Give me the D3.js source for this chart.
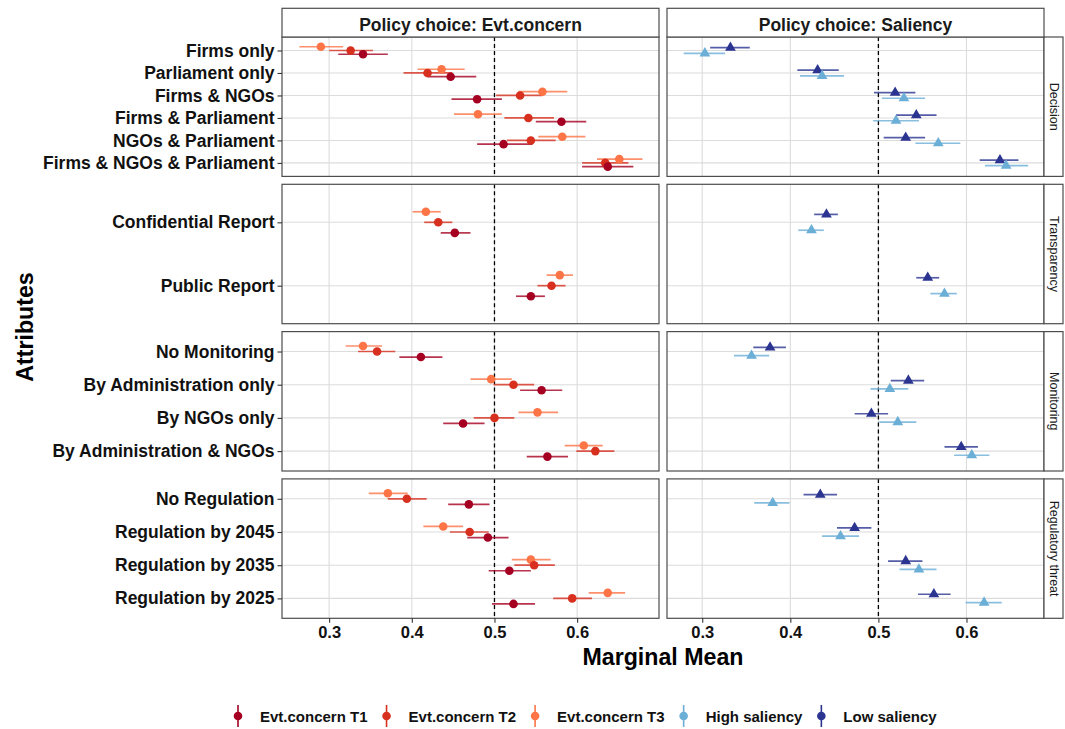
<!DOCTYPE html>
<html>
<head>
<meta charset="utf-8">
<script src="https://cdn.jsdelivr.net/npm/d3@7"></script>
<style>
  html, body { margin: 0; padding: 0; background: #ffffff; }
  svg { display: block; }
</style>
</head>
<body>
<script>
// ---------------- DATA ----------------
const decisionLevels = ["Firms only", "Parliament only", "Firms & NGOs", "Firms & Parliament", "NGOs & Parliament", "Firms & NGOs & Parliament"];
const transparencyLevels = ["Confidential Report", "Public Report"];
const monitoringLevels = ["No Monitoring", "By Administration only", "By NGOs only", "By Administration & NGOs"];
const regulatoryLevels = ["No Regulation", "Regulation by 2045", "Regulation by 2035", "Regulation by 2025"];
const groupNames = ["Decision", "Transparency", "Monitoring", "Regulatory threat"];
const facetNames = ["Policy choice: Evt.concern", "Policy choice: Saliency"];
const xTicks = [0.3, 0.4, 0.5, 0.6];
const seriesNames = ["Evt.concern T1", "Evt.concern T2", "Evt.concern T3", "High saliency", "Low saliency"];

// values in level order: decision(6), transparency(2), monitoring(4), regulatory(4)
const t1Est = [0.341, 0.447, 0.479, 0.581, 0.511, 0.637, 0.452, 0.544, 0.411, 0.557, 0.462, 0.564, 0.469, 0.492, 0.518, 0.523];
const t1Lo  = [0.311, 0.419, 0.448, 0.550, 0.479, 0.606, 0.435, 0.526, 0.385, 0.531, 0.438, 0.539, 0.444, 0.467, 0.493, 0.497];
const t1Hi  = [0.371, 0.478, 0.509, 0.611, 0.546, 0.668, 0.471, 0.561, 0.437, 0.582, 0.488, 0.589, 0.494, 0.517, 0.544, 0.549];

const t2Est = [0.326, 0.419, 0.531, 0.541, 0.544, 0.634, 0.432, 0.569, 0.358, 0.523, 0.500, 0.622, 0.394, 0.470, 0.548, 0.594];
const t2Lo  = [0.300, 0.390, 0.502, 0.512, 0.515, 0.606, 0.415, 0.552, 0.335, 0.499, 0.475, 0.599, 0.371, 0.446, 0.524, 0.571];
const t2Hi  = [0.353, 0.449, 0.558, 0.572, 0.574, 0.662, 0.449, 0.586, 0.380, 0.548, 0.524, 0.645, 0.418, 0.493, 0.573, 0.618];

const t3Est = [0.290, 0.436, 0.558, 0.480, 0.582, 0.651, 0.417, 0.579, 0.341, 0.496, 0.552, 0.608, 0.371, 0.438, 0.544, 0.637];
const t3Lo  = [0.264, 0.407, 0.529, 0.451, 0.553, 0.624, 0.401, 0.563, 0.320, 0.471, 0.529, 0.585, 0.348, 0.414, 0.521, 0.614];
const t3Hi  = [0.317, 0.464, 0.588, 0.509, 0.610, 0.679, 0.435, 0.595, 0.364, 0.521, 0.577, 0.631, 0.395, 0.462, 0.568, 0.658];

const highEst = [0.303, 0.436, 0.529, 0.520, 0.568, 0.645, 0.424, 0.575, 0.356, 0.513, 0.522, 0.606, 0.380, 0.457, 0.546, 0.620];
const highLo  = [0.279, 0.411, 0.504, 0.494, 0.542, 0.621, 0.409, 0.559, 0.336, 0.491, 0.501, 0.586, 0.359, 0.436, 0.524, 0.599];
const highHi  = [0.326, 0.461, 0.553, 0.546, 0.593, 0.670, 0.438, 0.589, 0.376, 0.534, 0.543, 0.626, 0.399, 0.478, 0.566, 0.640];

const lowEst = [0.332, 0.431, 0.519, 0.543, 0.531, 0.638, 0.441, 0.556, 0.377, 0.534, 0.492, 0.594, 0.434, 0.473, 0.531, 0.563];
const lowLo  = [0.309, 0.408, 0.495, 0.520, 0.506, 0.615, 0.427, 0.543, 0.358, 0.514, 0.473, 0.575, 0.415, 0.453, 0.511, 0.545];
const lowHi  = [0.354, 0.455, 0.542, 0.566, 0.553, 0.659, 0.454, 0.569, 0.395, 0.552, 0.511, 0.613, 0.453, 0.492, 0.550, 0.582];

// ---------------- LAYOUT / STYLE ----------------
const W = 1065, H = 729;
const colors = {"Evt.concern T1": "#A50021", "Evt.concern T2": "#D7301F", "Evt.concern T3": "#FD7446", "High saliency": "#6BAED6", "Low saliency": "#2B3591"};
const cols = [
  {x0: 282, x1: 659, domain: [0.243, 0.699]},
  {x0: 667, x1: 1044, domain: [0.260, 0.688]}
];
const rowTop0 = 37, rowH = 139.4, rowGap = 7.9;
const stripTop = 8.3;
const rightStripW = 19;
const levelGroups = [decisionLevels, transparencyLevels, monitoringLevels, regulatoryLevels];
const allLevels = [].concat(...levelGroups);
const FONT = "'Liberation Sans', Arial, Helvetica, sans-serif";

const svg = d3.select("body").append("svg").attr("width", W).attr("height", H)
  .style("font-family", FONT);
svg.append("rect").attr("width", W).attr("height", H).attr("fill", "#ffffff");

// Build rows
const mk = (name, est, lo, hi) => allLevels.map((lv, i) => ({series: name, level: lv, est: est[i], lo: lo[i], hi: hi[i]}));
const leftSeries = [
  {name: "Evt.concern T3", off: -1/6, data: mk("Evt.concern T3", t3Est, t3Lo, t3Hi)},
  {name: "Evt.concern T2", off: 0, data: mk("Evt.concern T2", t2Est, t2Lo, t2Hi)},
  {name: "Evt.concern T1", off: 1/6, data: mk("Evt.concern T1", t1Est, t1Lo, t1Hi)}
];
const rightSeries = [
  {name: "Low saliency", off: -0.125, data: mk("Low saliency", lowEst, lowLo, lowHi)},
  {name: "High saliency", off: 0.125, data: mk("High saliency", highEst, highLo, highHi)}
];

const xScales = cols.map(c => d3.scaleLinear().domain(c.domain).range([c.x0, c.x1]));

levelGroups.forEach((levels, r) => {
  const top = rowTop0 + r * (rowH + rowGap);
  const bottom = top + rowH;
  const y = d3.scalePoint().domain(levels).range([top, bottom]).padding(0.6);
  const step = y.step();

  cols.forEach((c, ci) => {
    const x = xScales[ci];
    const g = svg.append("g");
    g.append("rect").attr("x", c.x0).attr("y", top).attr("width", c.x1 - c.x0).attr("height", rowH)
      .attr("fill", "#ffffff");
    // grid
    g.selectAll("line.hg").data(levels).enter().append("line")
      .attr("x1", c.x0).attr("x2", c.x1).attr("y1", d => y(d)).attr("y2", d => y(d))
      .attr("stroke", "#dcdcdc").attr("stroke-width", 1.1);
    g.selectAll("line.vg").data(xTicks).enter().append("line")
      .attr("x1", d => x(d)).attr("x2", d => x(d)).attr("y1", top).attr("y2", bottom)
      .attr("stroke", "#dcdcdc").attr("stroke-width", 1.1);
    // dashed reference
    g.append("line").attr("x1", x(0.5)).attr("x2", x(0.5)).attr("y1", top).attr("y2", bottom)
      .attr("stroke", "#000").attr("stroke-width", 1.3).attr("stroke-dasharray", "4,3");

    const series = ci === 0 ? leftSeries : rightSeries;
    // error bars
    series.forEach(s => {
      const d = s.data.filter(p => levels.includes(p.level));
      g.selectAll(null).data(d).enter().append("line")
        .attr("x1", p => x(p.lo)).attr("x2", p => x(p.hi))
        .attr("y1", p => y(p.level) + s.off * step).attr("y2", p => y(p.level) + s.off * step)
        .attr("stroke", colors[s.name]).attr("stroke-width", 1.7).attr("stroke-opacity", 0.8);
    });
    // points
    series.forEach(s => {
      const d = s.data.filter(p => levels.includes(p.level));
      if (ci === 0) {
        g.selectAll(null).data(d).enter().append("circle")
          .attr("cx", p => x(p.est)).attr("cy", p => y(p.level) + s.off * step)
          .attr("r", 4.3).attr("fill", colors[s.name]);
      } else {
        g.selectAll(null).data(d).enter().append("path")
          .attr("d", d3.symbol().type(d3.symbolTriangle).size(50))
          .attr("transform", p => `translate(${x(p.est)},${y(p.level) + s.off * step})`)
          .attr("fill", colors[s.name]);
      }
    });
    // border
    g.append("rect").attr("x", c.x0).attr("y", top).attr("width", c.x1 - c.x0).attr("height", rowH)
      .attr("fill", "none").attr("stroke", "#4d4d4d").attr("stroke-width", 1.2);

    // y axis on left column
    if (ci === 0) {
      const ya = svg.append("g").attr("transform", `translate(${c.x0},0)`)
        .call(d3.axisLeft(y).tickSize(4.5).tickPadding(3));
      ya.select(".domain").remove();
      ya.selectAll(".tick line").attr("stroke", "#333").attr("stroke-width", 1.1);
      ya.selectAll(".tick text").attr("font-size", "17.5px").attr("font-weight", "bold")
        .attr("fill", "#111").attr("font-family", FONT);
    }
    // x axis at bottom row
    if (r === levelGroups.length - 1) {
      const xa = svg.append("g").attr("transform", `translate(0,${bottom})`)
        .call(d3.axisBottom(x).tickValues(xTicks).tickFormat(d3.format(".1f")).tickSize(4.5).tickPadding(3));
      xa.select(".domain").remove();
      xa.selectAll(".tick line").attr("stroke", "#333").attr("stroke-width", 1.1);
      xa.selectAll(".tick text").attr("font-size", "16.5px").attr("font-weight", "bold")
        .attr("fill", "#111").attr("font-family", FONT);
    }
  });

  // right strip
  const sx = cols[1].x1;
  svg.append("rect").attr("x", sx).attr("y", top).attr("width", rightStripW).attr("height", rowH)
    .attr("fill", "#ffffff").attr("stroke", "#4d4d4d").attr("stroke-width", 1.2);
  svg.append("text")
    .attr("transform", `translate(${sx + rightStripW / 2},${(top + bottom) / 2}) rotate(90)`)
    .attr("text-anchor", "middle").attr("dominant-baseline", "central")
    .attr("font-size", "12.5px").attr("fill", "#1a1a1a").text(groupNames[r]);
});

// top strips
cols.forEach((c, ci) => {
  svg.append("rect").attr("x", c.x0).attr("y", stripTop).attr("width", c.x1 - c.x0).attr("height", rowTop0 - stripTop)
    .attr("fill", "#ffffff").attr("stroke", "#4d4d4d").attr("stroke-width", 1.2);
  svg.append("text").attr("x", (c.x0 + c.x1) / 2).attr("y", 30.5)
    .attr("text-anchor", "middle").attr("font-size", "17.5px").attr("font-weight", "bold")
    .attr("fill", "#1a1a1a").text(facetNames[ci]);
});

// axis titles
svg.append("text").attr("x", (cols[0].x0 + cols[1].x1) / 2).attr("y", 665)
  .attr("text-anchor", "middle").attr("font-size", "23.2px").attr("font-weight", "bold")
  .attr("fill", "#000").text("Marginal Mean");
svg.append("text").attr("transform", `translate(33,327) rotate(-90)`)
  .attr("text-anchor", "middle").attr("font-size", "23.2px").attr("font-weight", "bold")
  .attr("fill", "#000").text("Attributes");

// legend
const leg = svg.append("g");
let lx = 238;
const ly = 716;
seriesNames.forEach(name => {
  leg.append("line").attr("x1", lx).attr("x2", lx).attr("y1", ly - 11).attr("y2", ly + 11)
    .attr("stroke", colors[name]).attr("stroke-width", 1.6);
  leg.append("circle").attr("cx", lx).attr("cy", ly).attr("r", 4.3).attr("fill", colors[name]);
  const t = leg.append("text").attr("x", lx + 22).attr("y", ly).attr("dominant-baseline", "central")
    .attr("font-size", "15px").attr("font-weight", "bold").attr("fill", "#111").text(name);
  lx = lx + 22 + t.node().getComputedTextLength() + 19;
});
</script>
</body>
</html>
